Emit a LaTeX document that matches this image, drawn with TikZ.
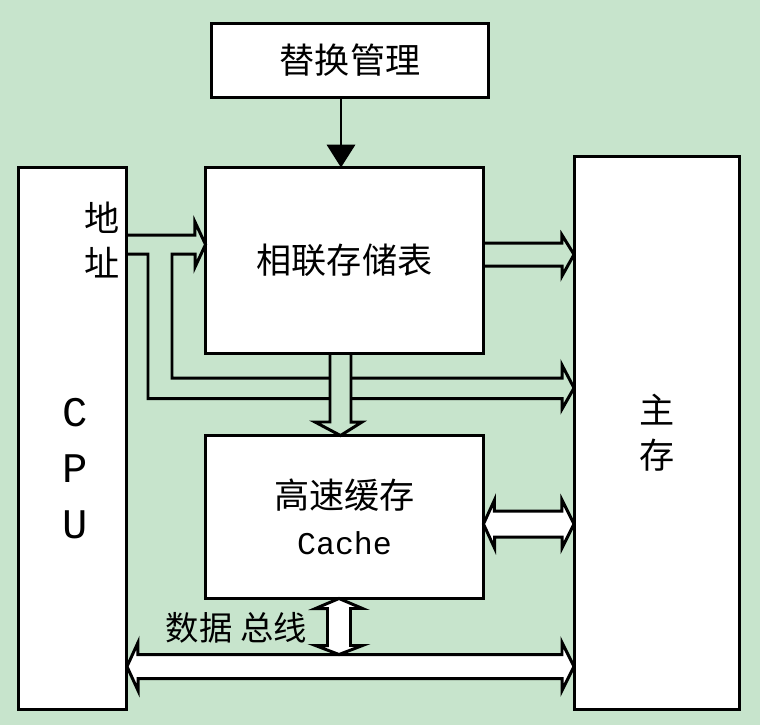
\documentclass[tikz,border=0pt]{standalone}
\usepackage{fontspec}
\setmainfont{Noto Sans CJK SC}
\setmonofont{Liberation Mono}
\usetikzlibrary{arrows.meta}
\definecolor{bggreen}{RGB}{199,228,204}

\begin{document}
\begin{tikzpicture}[x=0.02cm, y=-0.02cm]
	\tikzset{
		box/.style={rectangle, draw=black, line width=1.7pt, fill=white, inner sep=0pt, outer sep=0pt, align=center},
		cjk/.style={font=\fontsize{20pt}{26pt}\selectfont},
		latin/.style={font=\ttfamily\fontsize{24pt}{32pt}\selectfont, align=center},
		conn/.style={line width=1.7pt, draw=black},
	}
	\path[fill=bggreen, use as bounding box] (0,0) rectangle (760,725);

	\node[box, cjk, minimum width=5.54cm, minimum height=1.48cm] (repl) at (350,60.5) {替换管理};
	\node[box, cjk, minimum width=5.56cm, minimum height=3.72cm] (tbl) at (344.5,260.5) {相联存储表};
	\node[box, cjk, minimum width=5.56cm, minimum height=3.26cm] (cache) at (344.5,517) {高速缓存\\{\ttfamily\fontsize{18pt}{25pt}\selectfont Cache}};
	\node[box, minimum width=2.18cm, minimum height=10.84cm] (cpu) at (72.5,438.5) {};
	\node[box, cjk, minimum width=3.31cm, minimum height=11.07cm] (mem) at (656.75,432.75) {主\\存};

	\node[latin] (cpulbl) at (75,468.5) {C\\P\\U};
	\node[cjk, align=center] (addr) at (102,240) {地\\址};
	\node[font=\fontsize{19pt}{24pt}\selectfont] (buslbl) at (236.5,628) {数据 总线};
	\coordinate (bus) at (339,654.5);

	% replacement control
	\draw[conn, -{Triangle[length=13pt, width=16pt]}] (repl.south -| 341,0) -- (tbl.north -| 341,0);

	% table to main memory
	\draw[conn] (tbl.east |- 0,243) -- ++(78.5,0) -- ++(0,-8) -- (mem.west |- 0,254.5) -- ++(-12,21.5) -- ++(0,-10) -- (tbl.east |- 0,266);

	% address lines
	\draw[conn] (cpu.east |- 0,235) -- ++(68,0) -- ++(0,-13) -- (tbl.west |- 0,244.5) -- ++(-10.5,22.5) -- ++(0,-13)
		-| (172,378) -- ++(390,0) -- ++(0,-13) -- (mem.west |- 0,388) -- ++(-12,21) -- ++(0,-10.5)
		-| (148,254) -- (cpu.east |- 0,254);

	% table to cache
	\draw[conn, fill=bggreen] (tbl.south -| 330,0) -- ++(0,68.5) -- ++(-15,0) -- (cache.north -| 340.5,0) -- ++(21.5,-13.5) -- ++(-11,0) -- (tbl.south -| 351,0) -- cycle;

	% cache to main memory
	\draw[conn, fill=white] (cache.east |- 0,524) -- ++(11,-24) -- ++(0,11) -- ++(67.5,0) -- ++(0,-11) -- (mem.west |- 0,524)
		-- ++(-12,24) -- ++(0,-11) -- ++(-67.5,0) -- ++(0,11) -- cycle;

	% data bus
	\draw[conn, fill=white] (cpu.east |- 0,666.5) -- ++(11,-24) -- ++(0,12) -- ++(424,0) -- ++(0,-12) -- (mem.west |- 0,666.5)
		-- ++(-12,24) -- ++(0,-12) -- ++(-424,0) -- ++(0,12) -- cycle;
	\draw[conn, fill=white] (cache.south -| 339,0) -- ++(23.5,10) -- ++(-12,0) -- ++(0,37) -- ++(12,0) -- (bus)
		-- ++(-23.5,-9) -- ++(12,0) -- ++(0,-37) -- ++(-12,0) -- cycle;
\end{tikzpicture}
\end{document}
